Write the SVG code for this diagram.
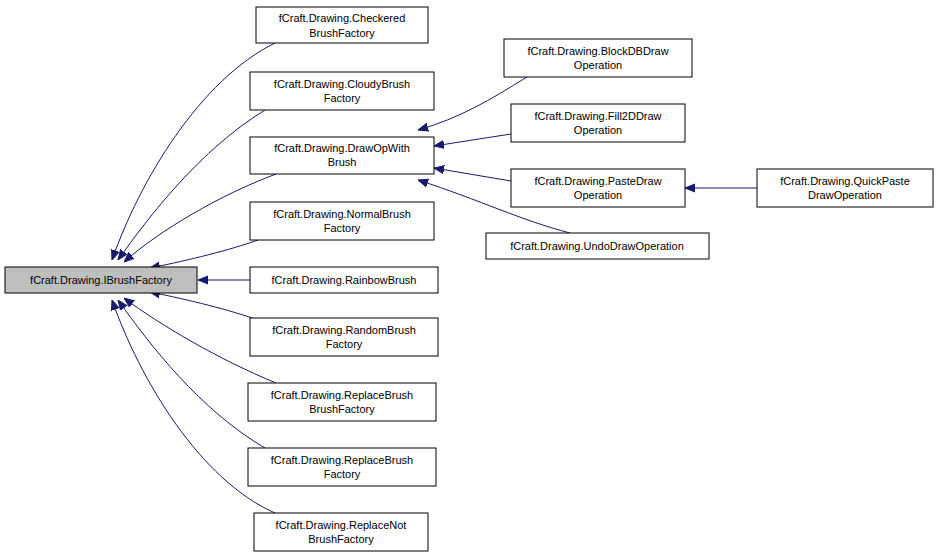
<svg xmlns="http://www.w3.org/2000/svg" width="939" height="560" viewBox="0 0 939 560">
<style>
.n rect{fill:#fff;stroke:#000;stroke-width:1}
.n text{font-family:"Liberation Sans",Arial,sans-serif;font-size:11px;text-anchor:middle;fill:#000}
.e path{fill:none;stroke:#191970;stroke-width:1}
</style>
<defs><marker id="a" viewBox="0 0 10 10" refX="10" refY="5" markerWidth="10" markerHeight="10" markerUnits="userSpaceOnUse" orient="auto"><path d="M0,1 L10,5 L0,9 z" fill="#191970" stroke="#191970"/></marker></defs>
<rect width="939" height="560" fill="#fff"/>
<g class="e">
<path d="M275,43 C200,80 140,180 112,260" marker-end="url(#a)"/>
<path d="M265,110 C200,150 150,215 118,260" marker-end="url(#a)"/>
<path d="M276,174 C220,195 160,230 124,262" marker-end="url(#a)"/>
<path d="M258,240 C230,250 190,260 150,268" marker-end="url(#a)"/>
<path d="M250,280 L198,280" marker-end="url(#a)"/>
<path d="M258,320 C230,310 190,300 150,292" marker-end="url(#a)"/>
<path d="M276,383 C220,360 160,325 124,298" marker-end="url(#a)"/>
<path d="M265,448 C200,410 150,345 118,300" marker-end="url(#a)"/>
<path d="M275,513 C200,480 140,380 112,300" marker-end="url(#a)"/>
<path d="M527,77 C490,100 460,118 418,130" marker-end="url(#a)"/>
<path d="M511,134 L434,146" marker-end="url(#a)"/>
<path d="M511,181 L434,168" marker-end="url(#a)"/>
<path d="M570,233 C520,220 480,200 418,180" marker-end="url(#a)"/>
<path d="M757,188 L685,188" marker-end="url(#a)"/>
</g>
<g id="IBrushFactory" class="n"><rect x="5" y="267" width="192" height="26" style="fill:#bfbfbf"/><text x="101" y="284">fCraft.Drawing.IBrushFactory</text></g>
<g id="Checkered" class="n"><rect x="256" y="7" width="172" height="36"/><text x="342" y="22">fCraft.Drawing.Checkered</text><text x="342" y="37">BrushFactory</text></g>
<g id="Cloudy" class="n"><rect x="250" y="72" width="184" height="38"/><text x="342" y="88">fCraft.Drawing.CloudyBrush</text><text x="342" y="102">Factory</text></g>
<g id="DrawOpWithBrush" class="n"><rect x="250" y="137" width="184" height="37"/><text x="342" y="152">fCraft.Drawing.DrawOpWith</text><text x="342" y="166">Brush</text></g>
<g id="Normal" class="n"><rect x="250" y="202" width="184" height="38"/><text x="342" y="218">fCraft.Drawing.NormalBrush</text><text x="342" y="232">Factory</text></g>
<g id="Rainbow" class="n"><rect x="250" y="267" width="188" height="26"/><text x="344" y="284">fCraft.Drawing.RainbowBrush</text></g>
<g id="Random" class="n"><rect x="250" y="318" width="188" height="38"/><text x="344" y="334">fCraft.Drawing.RandomBrush</text><text x="344" y="348">Factory</text></g>
<g id="ReplaceBrushBrush" class="n"><rect x="248" y="383" width="188" height="38"/><text x="342" y="399">fCraft.Drawing.ReplaceBrush</text><text x="342" y="413">BrushFactory</text></g>
<g id="ReplaceBrush" class="n"><rect x="248" y="448" width="188" height="38"/><text x="342" y="464">fCraft.Drawing.ReplaceBrush</text><text x="342" y="478">Factory</text></g>
<g id="ReplaceNot" class="n"><rect x="254" y="513" width="174" height="38"/><text x="341" y="529">fCraft.Drawing.ReplaceNot</text><text x="341" y="543">BrushFactory</text></g>
<g id="BlockDB" class="n"><rect x="504" y="39" width="188" height="38"/><text x="598" y="55">fCraft.Drawing.BlockDBDraw</text><text x="598" y="69">Operation</text></g>
<g id="Fill2D" class="n"><rect x="511" y="104" width="174" height="38"/><text x="598" y="120">fCraft.Drawing.Fill2DDraw</text><text x="598" y="134">Operation</text></g>
<g id="PasteDraw" class="n"><rect x="511" y="169" width="174" height="38"/><text x="598" y="185">fCraft.Drawing.PasteDraw</text><text x="598" y="199">Operation</text></g>
<g id="UndoDraw" class="n"><rect x="486" y="233" width="223" height="26"/><text x="597" y="250">fCraft.Drawing.UndoDrawOperation</text></g>
<g id="QuickPaste" class="n"><rect x="757" y="169" width="176" height="38"/><text x="845" y="185">fCraft.Drawing.QuickPaste</text><text x="845" y="199">DrawOperation</text></g>
</svg>
